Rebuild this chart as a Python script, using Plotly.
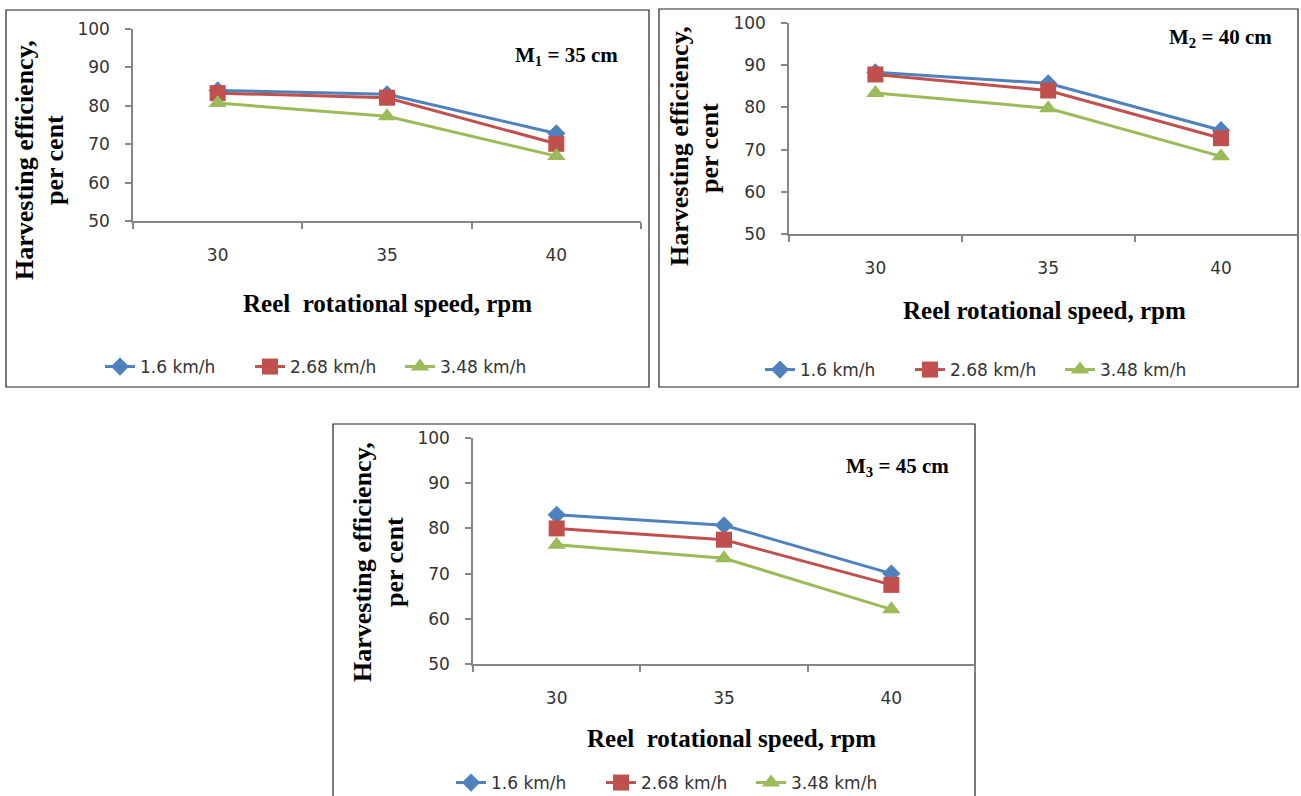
import plotly.graph_objects as go

W, H = 1301, 796

speeds = [30, 35, 40]
series_names = ["1.6 km/h", "2.68 km/h", "3.48 km/h"]

# Panel 1: M1 = 35 cm
m1_v16 = [84.0, 83.0, 72.8]
m1_v268 = [83.3, 82.1, 70.1]
m1_v348 = [80.7, 77.3, 66.9]
# Panel 2: M2 = 40 cm
m2_v16 = [88.3, 85.7, 74.6]
m2_v268 = [87.8, 84.0, 72.7]
m2_v348 = [83.4, 79.8, 68.4]
# Panel 3: M3 = 45 cm
m3_v16 = [83.0, 80.7, 70.0]
m3_v268 = [80.0, 77.5, 67.5]
m3_v348 = [76.4, 73.4, 62.1]

panel_labels = ["M<sub>1</sub> = 35 cm", "M<sub>2</sub> = 40 cm", "M<sub>3</sub> = 45 cm"]
x_titles = ["Reel&nbsp; rotational speed, rpm", "Reel rotational speed, rpm", "Reel&nbsp; rotational speed, rpm"]
y_title_lines = ["Harvesting efficiency,", "per cent"]

colors = ["#4F81BD", "#C0504D", "#9BBB59"]
symbols = ["diamond", "square", "triangle-up"]
msizes = [14, 16, 16]

panels = [
    [m1_v16, m1_v268, m1_v348],
    [m2_v16, m2_v268, m2_v348],
    [m3_v16, m3_v268, m3_v348],
]

# pixel geometry of each panel (plot area and framing box)
geo = [
    dict(x0=133, x1=641, y0=29, y1=221, xr=[-0.5, 2.5],
         box=(6, 10, 649, 387), yt=((24, 160), (54, 160)), xt=(387, 303), ann=(566, 56), leg=(100, 367)),
    dict(x0=789, x1=1297, y0=23, y1=234, xr=[-0.5, 2.44],
         box=(659, 9, 1298, 387), yt=((680, 146), (709, 148)), xt=(1044, 310), ann=(1220, 38), leg=(760, 370)),
    dict(x0=473, x1=975, y0=438, y1=664, xr=[-0.5, 2.5],
         box=(333, 424, 975, 800), yt=((362, 562), (394, 562)), xt=(731, 738), ann=(897, 467), leg=(451, 783)),
]

def px(x):
    return x / W

def py(y):
    return 1 - y / H

fig = go.Figure()
layout = dict(
    width=W, height=H,
    margin=dict(l=0, r=0, t=0, b=0, autoexpand=False),
    paper_bgcolor="white", plot_bgcolor="white",
    showlegend=True,
    shapes=[], annotations=[],
)

axis_color = "#868686"
tick_font = dict(family="DejaVu Sans", size=17, color="#333333")
serif_bold = dict(family="Liberation Serif", size=25, color="black", weight="bold")
ytitle_font = dict(family="Liberation Serif", size=26, color="black", weight="bold")

for i, (data, g) in enumerate(zip(panels, geo)):
    sfx = "" if i == 0 else str(i + 1)
    leg = "legend" if i == 0 else "legend" + str(i + 1)
    for j, vals in enumerate(data):
        fig.add_trace(go.Scatter(
            x=[str(s) for s in speeds], y=vals,
            mode="lines+markers",
            name=series_names[j],
            line=dict(color=colors[j], width=3),
            marker=dict(symbol=symbols[j], size=msizes[j], color=colors[j]),
            xaxis="x" + sfx, yaxis="y" + sfx,
            legend=leg,
            cliponaxis=False,
        ))
    layout["xaxis" + sfx] = dict(
        type="category", domain=[px(g["x0"]), px(g["x1"])], range=g["xr"],
        anchor="y" + sfx, showline=True, linecolor=axis_color, linewidth=1.5,
        ticks="outside", tickson="boundaries", ticklen=6, tickcolor=axis_color, tickwidth=1.5,
        showgrid=False, zeroline=False, tickfont=tick_font, ticklabelstandoff=18,
    )
    layout["yaxis" + sfx] = dict(
        domain=[py(g["y1"]), py(g["y0"])], range=[50, 100], dtick=10,
        anchor="x" + sfx, showline=True, linecolor=axis_color, linewidth=1.5,
        ticks="outside", ticklen=6, tickcolor=axis_color, tickwidth=1.5,
        showgrid=False, zeroline=False, tickfont=tick_font, ticklabelstandoff=12,
    )
    layout[leg] = dict(
        orientation="h", x=px(g["leg"][0]), y=py(g["leg"][1]),
        xanchor="left", yanchor="middle", bgcolor="rgba(0,0,0,0)",
        font=dict(family="DejaVu Sans", size=17, color="#333333"),
        itemwidth=30, entrywidth=105, entrywidthmode="pixels",
    )
    bx0, by0, bx1, by1 = g["box"]
    layout["shapes"].append(dict(
        type="rect", xref="paper", yref="paper",
        x0=px(bx0), x1=px(bx1), y0=py(by1), y1=py(by0),
        line=dict(color="#222222", width=1.2), fillcolor="rgba(0,0,0,0)", layer="below",
    ))
    for line_text, (lx, ly) in zip(y_title_lines, g["yt"]):
        layout["annotations"].append(dict(
            text=line_text, xref="paper", yref="paper",
            x=px(lx), y=py(ly), xanchor="center", yanchor="middle",
            textangle=-90, showarrow=False, font=ytitle_font,
        ))
    layout["annotations"].append(dict(
        text=x_titles[i], xref="paper", yref="paper",
        x=px(g["xt"][0]), y=py(g["xt"][1]), xanchor="center", yanchor="middle",
        showarrow=False, font=serif_bold,
    ))
    layout["annotations"].append(dict(
        text=panel_labels[i], xref="paper", yref="paper",
        x=px(g["ann"][0]), y=py(g["ann"][1]), xanchor="center", yanchor="middle",
        showarrow=False, font=dict(family="Liberation Serif", size=21, color="black", weight="bold"),
    ))

fig.update_layout(**layout)
fig.write_html("out.html")
